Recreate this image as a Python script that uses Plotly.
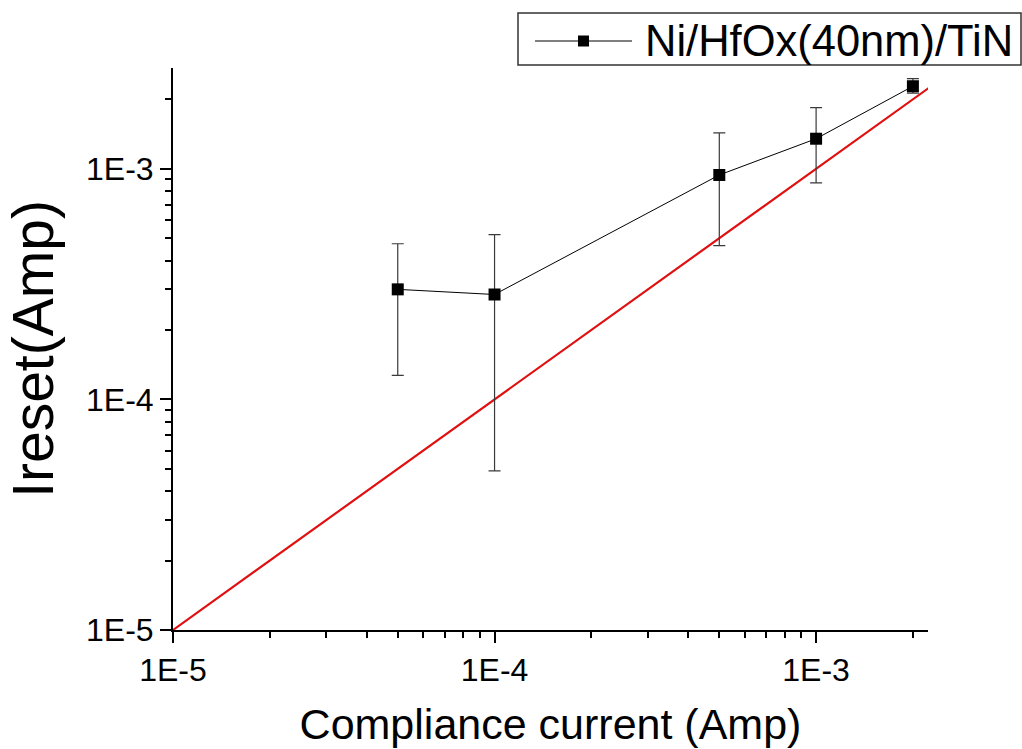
import plotly.graph_objects as go

# Measured reset current vs. compliance current
series_name = "Ni/HfOx(40nm)/TiN"
compliance = [5e-5, 1e-4, 5e-4, 1e-3, 2e-3]
ireset = [3.0e-4, 2.85e-4, 9.4e-4, 1.35e-3, 2.28e-3]
err_plus = [1.73e-4, 2.33e-4, 4.9e-4, 4.9e-4, 1.8e-4]
err_minus = [1.73e-4, 2.36e-4, 4.76e-4, 4.81e-4, 1.5e-4]

# Reference line Ireset = Icc
ref_x = [1e-5, 2.25e-3]
ref_y = [1e-5, 2.25e-3]

tick_vals = [1e-5, 1e-4, 1e-3]
tick_text = ["1E-5", "1E-4", "1E-3"]
minor_steps = [2, 3, 4, 5, 6, 7, 8, 9]

# minor ticks at 2..9 within each decade
minor_vals = [d * m for d in tick_vals for m in minor_steps]

FONT = "Liberation Sans, Arial, sans-serif"
W, H = 1022, 749
M = dict(l=173, r=94, t=68, b=119)
PW = W - M["l"] - M["r"]
PH = H - M["t"] - M["b"]


def px_x(p):
    """page pixel column -> paper x"""
    return (p - M["l"]) / PW


def px_y(p):
    """page pixel row -> paper y"""
    return (H - M["b"] - p) / PH


fig = go.Figure()

fig.add_trace(go.Scatter(
    x=ref_x, y=ref_y, mode="lines",
    line=dict(color="#e01010", width=2.2),
    showlegend=False, hoverinfo="skip",
))

fig.add_trace(go.Scatter(
    x=compliance, y=ireset, mode="lines+markers",
    name=series_name, showlegend=False,
    line=dict(color="black", width=1),
    marker=dict(symbol="square", size=12, color="black"),
    error_y=dict(type="data", symmetric=False, array=err_plus, arrayminus=err_minus,
                 color="#3a3a3a", thickness=1.2, width=6),
))

axis_common = dict(
    type="log",
    showgrid=False,
    zeroline=False,
    showline=True,
    linecolor="black",
    linewidth=2,
    ticks="outside",
    ticklen=11,
    tickwidth=1.5,
    tickcolor="black",
    tickmode="array",
    tickvals=tick_vals,
    ticktext=tick_text,
    tickfont=dict(family=FONT, size=32, color="black"),
    minor=dict(ticks="outside", tickmode="array", tickvals=minor_vals,
               ticklen=6, tickwidth=1.5, tickcolor="black", showgrid=False),
    mirror=False,
)

fig.update_xaxes(
    **axis_common,
    range=[-5, -2.652],
    title=dict(text="Compliance current (Amp)", font=dict(family=FONT, size=43, color="black"),
               standoff=21),
)
fig.update_yaxes(
    **axis_common,
    range=[-5, -2.563],
    title=dict(text="Ireset(Amp)", font=dict(family=FONT, size=57, color="black"),
               standoff=14),
)

# Boxed legend in the top-right corner
legend_y = px_y(41)
fig.add_shape(type="rect", xref="paper", yref="paper",
              x0=px_x(518), x1=px_x(1021), y0=px_y(65), y1=px_y(13),
              line=dict(color="#333333", width=1.5), fillcolor="white", layer="above")
fig.add_shape(type="line", xref="paper", yref="paper",
              x0=px_x(535), x1=px_x(632), y0=legend_y, y1=legend_y,
              line=dict(color="black", width=1), layer="above")
fig.add_shape(type="rect", xref="paper", yref="paper",
              x0=px_x(578), x1=px_x(589), y0=px_y(46.5), y1=px_y(35.5),
              line=dict(color="black", width=0), fillcolor="black", layer="above")
fig.add_annotation(xref="paper", yref="paper", x=px_x(643), y=legend_y,
                   xanchor="left", yanchor="middle", showarrow=False,
                   text=series_name, font=dict(family=FONT, size=43.5, color="black"))

fig.update_layout(
    width=W, height=H,
    margin=dict(**M, autoexpand=False),
    paper_bgcolor="white",
    plot_bgcolor="white",
    font=dict(family=FONT, color="black"),
    showlegend=False,
)

fig.write_html("out.html")
